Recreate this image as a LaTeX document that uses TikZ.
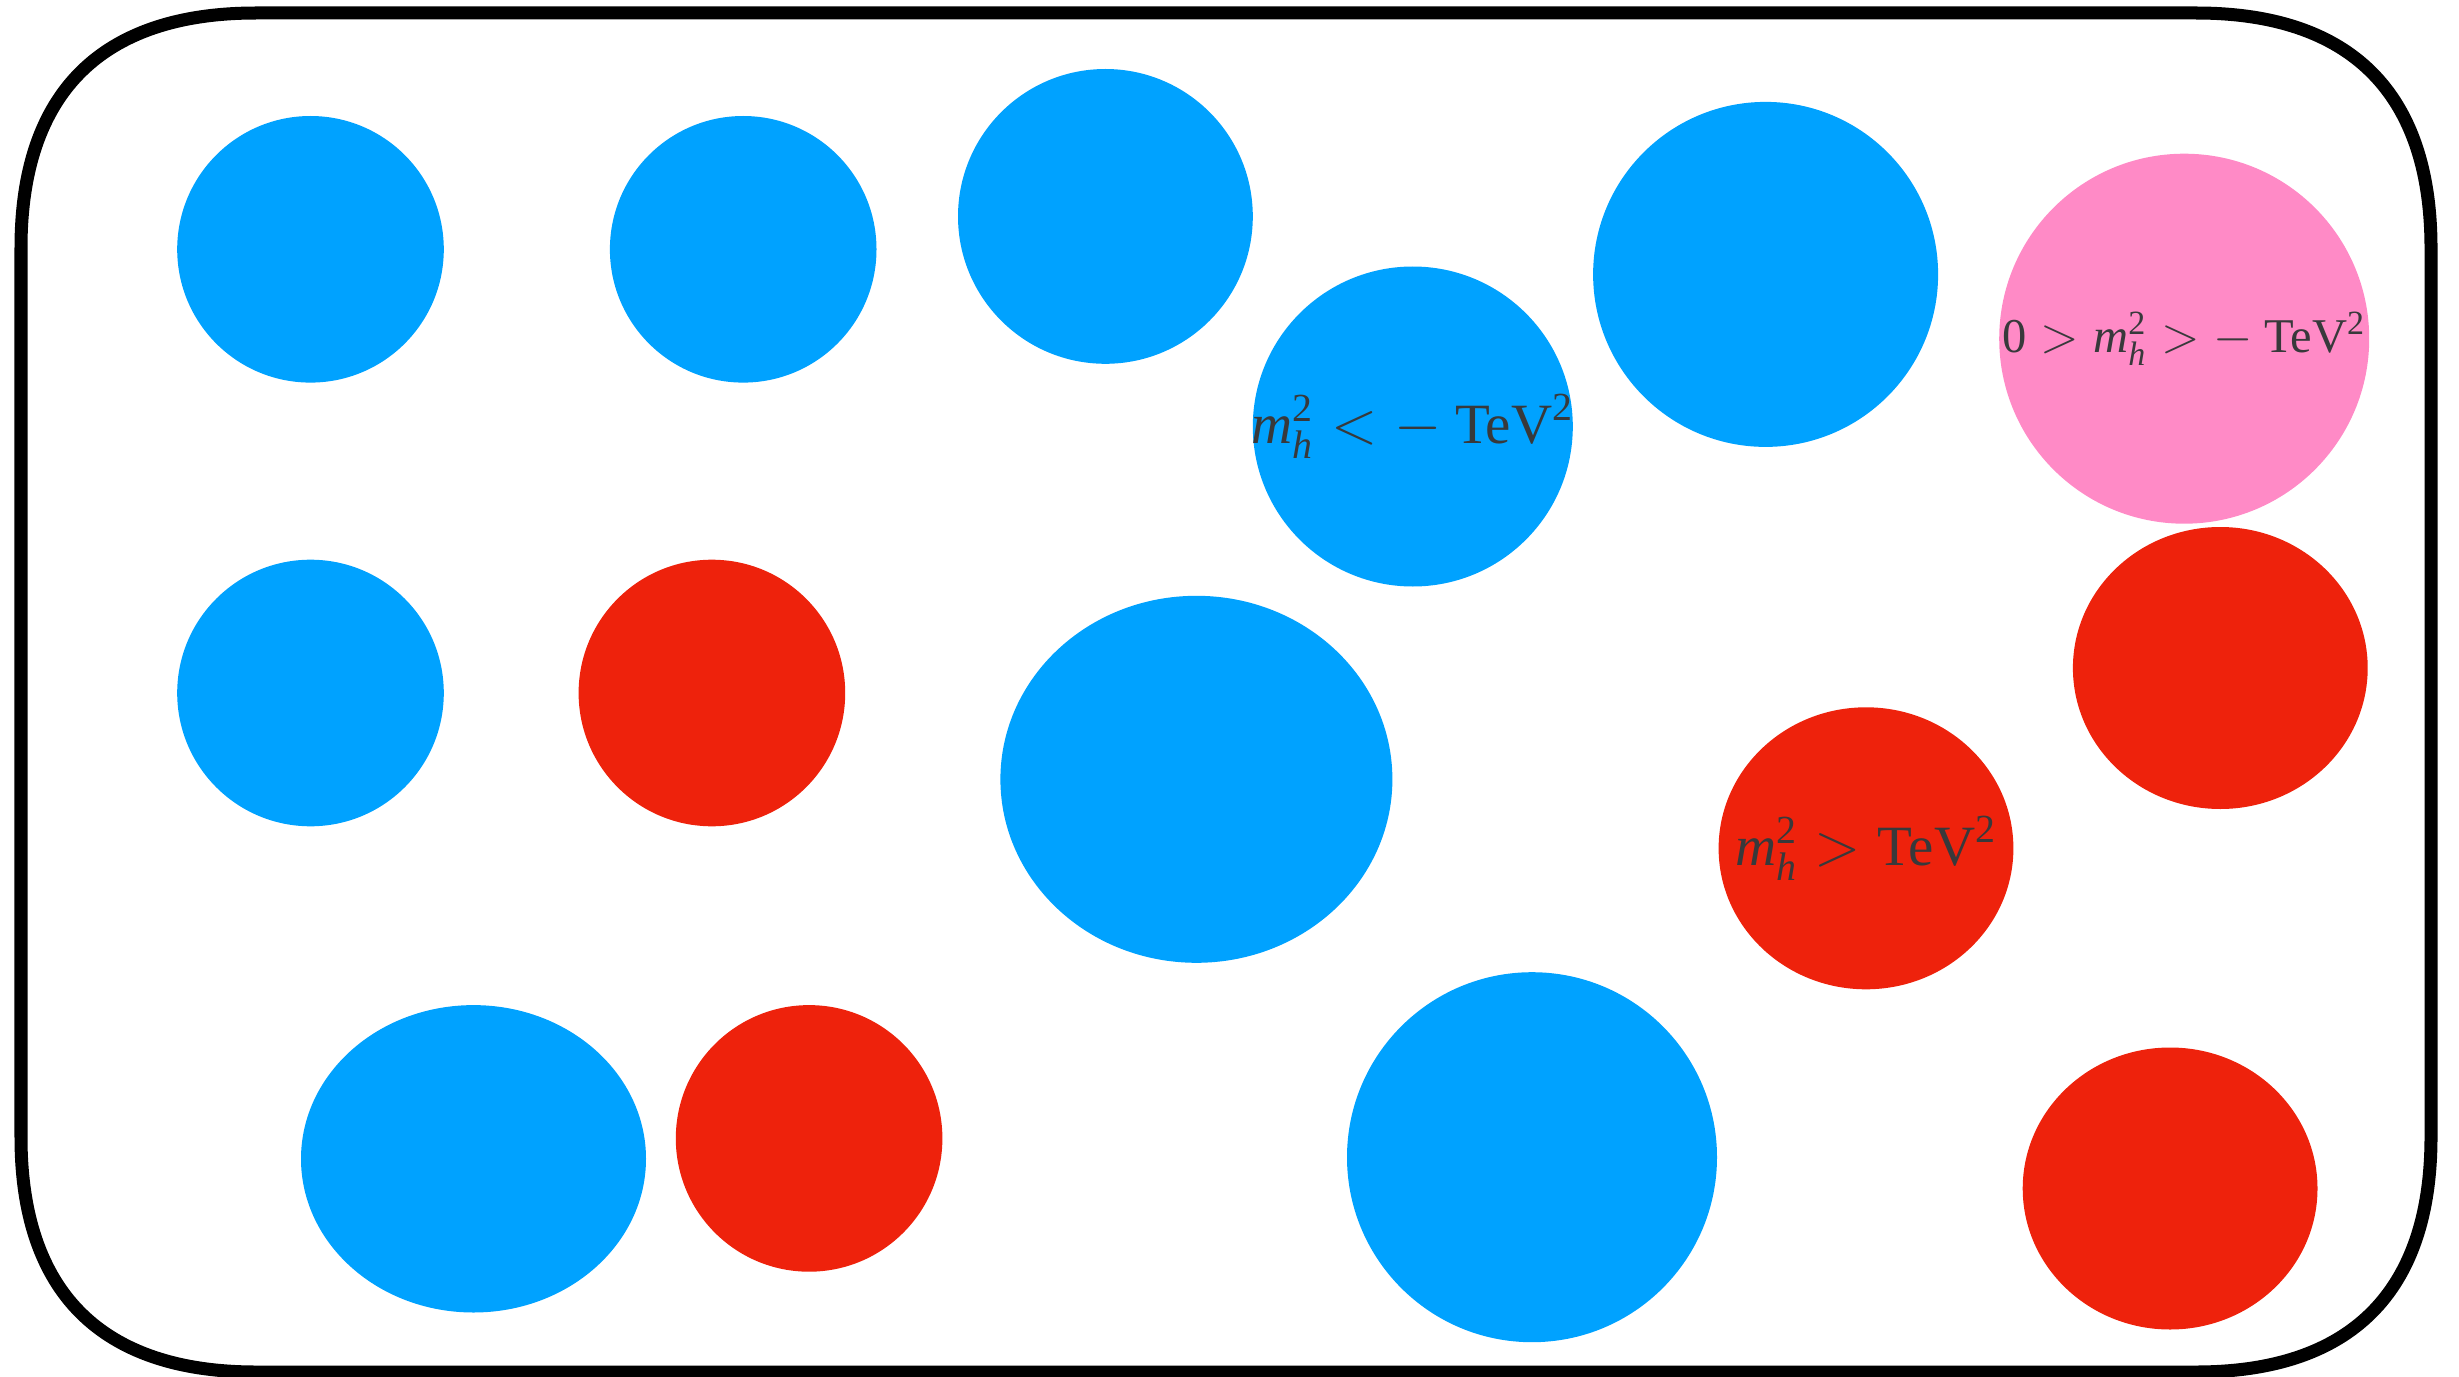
\documentclass[tikz,border=0pt]{standalone}
\usepackage{amsmath}
\usepackage{fontspec}
\setmainfont{Liberation Serif}
\usetikzlibrary{shapes.geometric}

\definecolor{skyblue}{HTML}{00A2FF}
\definecolor{vermil}{HTML}{EE220C}
\definecolor{rosepink}{HTML}{FF8AC6}
\definecolor{inkgray}{HTML}{38393B}

\begin{document}
\begin{tikzpicture}[
    x=1cm, y=-1cm,
    every node/.style={font=\fontsize{16.2}{19}\selectfont, text=inkgray},
    blob/.style 2 args={ellipse, inner sep=0pt, minimum width=#1cm, minimum height=#2cm},
    coldblob/.style 2 args={blob={#1}{#2}, fill=skyblue},
    hotblob/.style 2 args={blob={#1}{#2}, fill=vermil},
    mildblob/.style 2 args={blob={#1}{#2}, fill=rosepink},
    tag/.style={inner sep=0pt},
    frame/.style={draw=black, line width=3.7pt}
]
    \useasboundingbox (0,0) rectangle (24.59,13.77);

    % --- Marco redondeado ---
    \draw[frame] (0.21,2.48) .. controls (0.21,0.93) and (1.01,0.13) .. (2.56,0.13)
        -- (21.96,0.13) .. controls (23.51,0.13) and (24.31,0.93) .. (24.31,2.48)
        -- (24.31,11.37) .. controls (24.31,12.92) and (23.51,13.72) .. (21.96,13.72)
        -- (2.56,13.72) .. controls (1.01,13.72) and (0.21,12.92) .. (0.21,11.37)
        -- cycle;

    % --- Fila superior ---
    \node[coldblob={2.666}{2.666}] (cold1) at (3.105, 2.493) {};
    \node[coldblob={2.666}{2.666}] (cold2) at (7.432, 2.493) {};
    \node[coldblob={2.948}{2.948}] (cold3) at (11.054, 2.164) {};
    \node[coldblob={3.20}{3.20}]   (cold4) at (14.128, 4.265) {};
    \node[coldblob={3.45}{3.45}]   (cold5) at (17.656, 2.744) {};
    \node[mildblob={3.70}{3.70}]   (mild)  at (21.842, 3.387) {};

    % --- Fila media ---
    \node[coldblob={2.666}{2.666}] (cold6) at (3.105, 6.93) {};
    \node[hotblob={2.666}{2.666}]  (hot1)  at (7.119, 6.93) {};
    \node[coldblob={3.92}{3.67}]   (cold7) at (11.964, 7.793) {};
    \node[hotblob={2.948}{2.82}]   (hot2)  at (22.203, 6.68) {};
    \node[hotblob={2.948}{2.82}]   (hot3)  at (18.66, 8.483) {};

    % --- Fila inferior ---
    \node[coldblob={3.45}{3.074}]  (cold8) at (4.735, 11.588) {};
    \node[hotblob={2.666}{2.666}]  (hot4)  at (8.091, 11.384) {};
    \node[coldblob={3.70}{3.70}]   (cold9) at (15.32, 11.572) {};
    \node[hotblob={2.948}{2.82}]   (hot5)  at (21.701, 11.885) {};

    % --- Etiquetas ---
    \node[tag] (tag-cold4) at (cold4)
        {$\textit{m}_{\textit{h}}^{\text{2}} < -\:\text{TeV}^{\text{2}}$};
    \node[tag, font=\fontsize{13.8}{16}\selectfont] (tag-mild) at (mild)
        {$\text{0} > \textit{m}_{\textit{h}}^{\text{2}} > -\:\text{TeV}^{\text{2}}$};
    \node[tag] (tag-hot3) at (hot3)
        {$\textit{m}_{\textit{h}}^{\text{2}} > \text{TeV}^{\text{2}}$};

\end{tikzpicture}
\end{document}
